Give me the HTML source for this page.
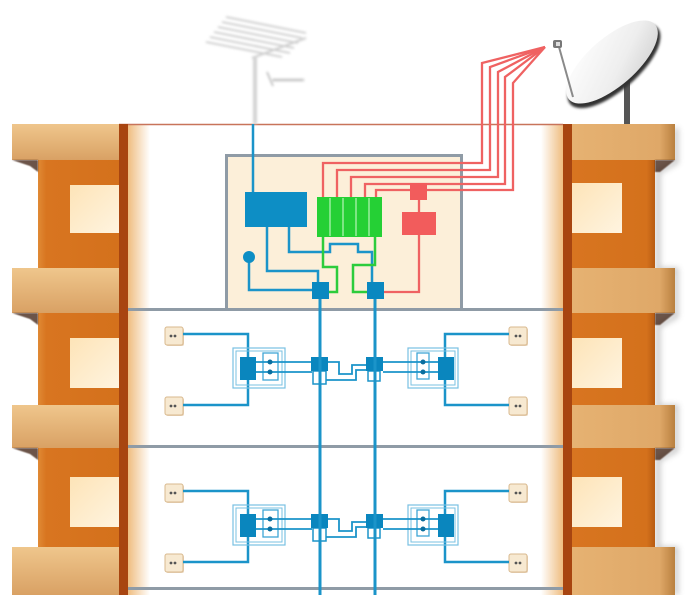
<!DOCTYPE html>
<html>
<head>
<meta charset="utf-8">
<style>
  html,body{margin:0;padding:0;background:#fff;}
  body{width:700px;height:595px;overflow:hidden;font-family:"Liberation Sans",sans-serif;}
  svg{display:block;}
</style>
</head>
<body>
<svg width="700" height="595" viewBox="0 0 700 595" xmlns="http://www.w3.org/2000/svg">
  <defs>
    <linearGradient id="slab" x1="0" y1="0" x2="0" y2="1">
      <stop offset="0" stop-color="#efc68c"/>
      <stop offset="1" stop-color="#d9a164"/>
    </linearGradient>
    <linearGradient id="slabR" x1="0" y1="0" x2="1" y2="0">
      <stop offset="0" stop-color="#e6b272"/>
      <stop offset="0.85" stop-color="#dfa868"/>
      <stop offset="1" stop-color="#b9803f"/>
    </linearGradient>
    <linearGradient id="orangeL" x1="0" y1="0" x2="1" y2="0">
      <stop offset="0" stop-color="#e08a35"/>
      <stop offset="0.1" stop-color="#d87520"/>
      <stop offset="1" stop-color="#d4711c"/>
    </linearGradient>
    <linearGradient id="orangeR" x1="0" y1="0" x2="1" y2="0">
      <stop offset="0" stop-color="#d87520"/>
      <stop offset="0.9" stop-color="#d4711c"/>
      <stop offset="1" stop-color="#b85c12"/>
    </linearGradient>
    <linearGradient id="win" x1="0" y1="0" x2="1" y2="1">
      <stop offset="0" stop-color="#fde4b8"/>
      <stop offset="1" stop-color="#fff4e0"/>
    </linearGradient>
    <linearGradient id="lgrad" x1="0" y1="0" x2="1" y2="0">
      <stop offset="0" stop-color="#efbd80"/>
      <stop offset="1" stop-color="#ffffff"/>
    </linearGradient>
    <linearGradient id="rgrad" x1="0" y1="0" x2="1" y2="0">
      <stop offset="0" stop-color="#ffffff"/>
      <stop offset="1" stop-color="#efbd80"/>
    </linearGradient>
    <linearGradient id="dish" x1="0" y1="0" x2="1" y2="1">
      <stop offset="0" stop-color="#ffffff"/>
      <stop offset="0.6" stop-color="#eeeeee"/>
      <stop offset="1" stop-color="#cfcfcf"/>
    </linearGradient>
    <filter id="blur1" x="-20%" y="-20%" width="140%" height="140%">
      <feGaussianBlur stdDeviation="1.2"/>
    </filter>
    <filter id="blur3" x="-50%" y="-10%" width="200%" height="120%">
      <feGaussianBlur stdDeviation="3"/>
    </filter>
    <filter id="blur05">
      <feGaussianBlur stdDeviation="0.5"/>
    </filter>

    <!-- one floor's wiring -->
    <g id="floor">
      <!-- outlets -->
      <g>
        <rect x="166" y="328" width="18" height="18" rx="2" fill="#d8b88e" opacity="0.6"/>
        <rect x="165" y="327" width="18" height="18" rx="2" fill="#f7e9d1" stroke="#d9b98e" stroke-width="1"/>
        <circle cx="171" cy="336" r="1.4" fill="#555"/><circle cx="175" cy="336" r="1.4" fill="#555"/>
        <rect x="166" y="398" width="18" height="18" rx="2" fill="#d8b88e" opacity="0.6"/>
        <rect x="165" y="397" width="18" height="18" rx="2" fill="#f7e9d1" stroke="#d9b98e" stroke-width="1"/>
        <circle cx="171" cy="406" r="1.4" fill="#555"/><circle cx="175" cy="406" r="1.4" fill="#555"/>
        <rect x="510" y="328" width="18" height="18" rx="2" fill="#d8b88e" opacity="0.6"/>
        <rect x="509" y="327" width="18" height="18" rx="2" fill="#f7e9d1" stroke="#d9b98e" stroke-width="1"/>
        <circle cx="516" cy="336" r="1.4" fill="#555"/><circle cx="520" cy="336" r="1.4" fill="#555"/>
        <rect x="510" y="398" width="18" height="18" rx="2" fill="#d8b88e" opacity="0.6"/>
        <rect x="509" y="397" width="18" height="18" rx="2" fill="#f7e9d1" stroke="#d9b98e" stroke-width="1"/>
        <circle cx="516" cy="406" r="1.4" fill="#555"/><circle cx="520" cy="406" r="1.4" fill="#555"/>
      </g>
      <!-- outlet cables -->
      <path d="M183,334 H248 V405 H183" fill="none" stroke="#1b94c9" stroke-width="2.5"/>
      <path d="M509,334 H445 V405 H509" fill="none" stroke="#1b94c9" stroke-width="2.5"/>
      <!-- left splitter -->
      <rect x="233" y="348" width="52" height="40" fill="none" stroke="#79c0e2" stroke-width="1.2"/>
      <rect x="236" y="351" width="46" height="34" fill="none" stroke="#79c0e2" stroke-width="1"/>
      <rect x="263" y="353" width="15" height="27" fill="none" stroke="#3fa6d6" stroke-width="1.3"/>
      <path d="M256,362 H312 M256,372 H312" stroke="#1b94c9" stroke-width="1.8"/>
      <rect x="240" y="357" width="16" height="23" fill="#0a86be"/>
      <circle cx="270" cy="362" r="2.5" fill="#0a6e9e"/>
      <circle cx="270" cy="372" r="2.5" fill="#0a6e9e"/>
      <!-- central nodes & jumper -->
      <rect x="313" y="371" width="13" height="13" fill="none" stroke="#1b94c9" stroke-width="1.5"/>
      <rect x="368" y="371" width="12" height="10" fill="none" stroke="#1b94c9" stroke-width="1.5"/>
      <path d="M328,362 H339 V374 H352 V365 H366" fill="none" stroke="#1b94c9" stroke-width="1.8"/>
      <path d="M326,380 H356 V370 H366" fill="none" stroke="#1b94c9" stroke-width="1.8"/>
      <rect x="311" y="357" width="17" height="14" fill="#0a86be"/>
      <rect x="366" y="357" width="17" height="14" fill="#0a86be"/>
      <!-- right splitter -->
      <rect x="408" y="348" width="50" height="40" fill="none" stroke="#79c0e2" stroke-width="1.2"/>
      <rect x="411" y="351" width="44" height="34" fill="none" stroke="#79c0e2" stroke-width="1"/>
      <rect x="417" y="353" width="12" height="26" fill="none" stroke="#3fa6d6" stroke-width="1.3"/>
      <path d="M383,362 H438 M383,372 H438" stroke="#1b94c9" stroke-width="1.8"/>
      <rect x="438" y="357" width="16" height="23" fill="#0a86be"/>
      <circle cx="423" cy="362" r="2.5" fill="#0a6e9e"/>
      <circle cx="423" cy="372" r="2.5" fill="#0a6e9e"/>
    </g>
  </defs>

  <rect width="700" height="595" fill="#ffffff"/>

  <!-- building interior -->
  <rect x="128" y="124" width="435" height="471" fill="#ffffff"/>
  <rect x="128" y="124" width="22" height="471" fill="url(#lgrad)"/>
  <rect x="541" y="124" width="22" height="471" fill="url(#rgrad)"/>
  <line x1="119" y1="124.5" x2="563" y2="124.5" stroke="#c8745a" stroke-width="1.6"/>

  <!-- floor lines -->
  <rect x="128" y="308" width="435" height="3" fill="#8f9ba6"/>
  <rect x="128" y="445" width="435" height="3" fill="#8f9ba6"/>
  <rect x="128" y="587" width="435" height="3" fill="#8f9ba6"/>

  <!-- LEFT COLUMN -->
  <g>
    <rect x="12" y="124" width="108" height="36" fill="url(#slab)"/>
    <rect x="38" y="160" width="82" height="108" fill="url(#orangeL)"/>
    <rect x="70" y="185" width="50" height="48" fill="url(#win)"/>
    <rect x="12" y="268" width="108" height="45" fill="url(#slab)"/>
    <rect x="38" y="313" width="82" height="92" fill="url(#orangeL)"/>
    <rect x="70" y="338" width="50" height="50" fill="url(#win)"/>
    <rect x="12" y="405" width="108" height="43" fill="url(#slab)"/>
    <rect x="38" y="448" width="82" height="99" fill="url(#orangeL)"/>
    <rect x="70" y="477" width="50" height="50" fill="url(#win)"/>
    <rect x="12" y="547" width="108" height="48" fill="url(#slab)"/>
    <!-- slab under-shadows -->
    <g fill="#3a1a08" opacity="0.75" filter="url(#blur05)">
      <polygon points="12,160 38,160 38,172 30,166"/>
      <polygon points="12,313 38,313 38,325 30,319"/>
      <polygon points="12,448 38,448 38,460 30,454"/>
    </g>
    <rect x="119" y="124" width="9" height="471" fill="#a84510"/>
  </g>

  <!-- RIGHT COLUMN -->
  <g>
    <!-- drop shadow -->
    <path d="M676,128 V162 L658,172 V270 H676 V316 L658,326 V407 H676 V450 L658,460 V549 H676 V595" fill="none" stroke="#888" stroke-width="5" opacity="0.45" filter="url(#blur3)"/>
    <rect x="572" y="124" width="103" height="36" fill="url(#slabR)"/>
    <rect x="572" y="160" width="83" height="108" fill="url(#orangeR)"/>
    <rect x="572" y="183" width="50" height="50" fill="url(#win)"/>
    <rect x="572" y="268" width="103" height="45" fill="url(#slabR)"/>
    <rect x="572" y="313" width="83" height="92" fill="url(#orangeR)"/>
    <rect x="572" y="338" width="50" height="50" fill="url(#win)"/>
    <rect x="572" y="405" width="103" height="43" fill="url(#slabR)"/>
    <rect x="572" y="448" width="83" height="99" fill="url(#orangeR)"/>
    <rect x="572" y="477" width="50" height="50" fill="url(#win)"/>
    <rect x="572" y="547" width="103" height="48" fill="url(#slabR)"/>
    <g fill="#3a1a08" opacity="0.75" filter="url(#blur05)">
      <polygon points="655,160 675,160 660,172 655,172"/>
      <polygon points="655,313 675,313 660,325 655,325"/>
      <polygon points="655,448 675,448 660,460 655,460"/>
    </g>
    <rect x="563" y="124" width="9" height="471" fill="#a84510"/>
  </g>

  <!-- TV ANTENNA -->
  <g filter="url(#blur1)" opacity="0.9">
    <g stroke="#bdbdbd" stroke-width="1.6" fill="none">
      <line x1="226" y1="17" x2="306" y2="33"/>
      <line x1="222" y1="22" x2="302" y2="38"/>
      <line x1="218" y1="27" x2="298" y2="43"/>
      <line x1="214" y1="32" x2="294" y2="48"/>
      <line x1="210" y1="37" x2="290" y2="53"/>
      <line x1="206" y1="42" x2="282" y2="57"/>
    </g>
    <line x1="252" y1="58" x2="306" y2="38" stroke="#c8c8c8" stroke-width="2"/>
    <line x1="255" y1="56" x2="255" y2="124" stroke="#cfcfcf" stroke-width="4"/>
    <line x1="267" y1="72" x2="273" y2="86" stroke="#a8a8a8" stroke-width="1.5"/>
    <line x1="273" y1="80" x2="304" y2="80" stroke="#9a9a9a" stroke-width="2.5" stroke-dasharray="2,1"/>
  </g>

  <!-- SATELLITE DISH -->
  <g>
    <rect x="624" y="74" width="6" height="50" fill="#555"/>
    <ellipse cx="614" cy="66" rx="58" ry="24" transform="rotate(-41 614 66)" fill="#333" filter="url(#blur1)"/>
    <ellipse cx="612" cy="62" rx="57" ry="24" transform="rotate(-41 612 62)" fill="url(#dish)"/>
    <line x1="559" y1="47" x2="573" y2="97" stroke="#8a8a8a" stroke-width="2"/>
    <rect x="553" y="40" width="9" height="8" rx="2" fill="#777"/>
    <rect x="556" y="42" width="4" height="4" fill="#ddd"/>
  </g>

  <!-- HEADEND CABINET -->
  <rect x="226.5" y="155.5" width="235" height="154" fill="#fcefd9" stroke="#8f9ba6" stroke-width="3"/>

  <!-- red satellite cables -->
  <g fill="none" stroke="#ef6262" stroke-width="2.3" stroke-linejoin="miter">
    <path d="M323,197 V163 H482 V63 L545,47"/>
    <path d="M337,197 V170 H490 V67 L545,47"/>
    <path d="M351,197 V177 H498 V72 L545,47"/>
    <path d="M365,197 V184 H505 V77 L545,47"/>
    <path d="M376,197 V190 H513 V83 L545,47"/>
    <path d="M419,200 V212"/>
    <path d="M419,235 V292 H384"/>
  </g>
  <rect x="410" y="183" width="17" height="17" fill="#f25c5c"/>
  <rect x="402" y="212" width="34" height="23" fill="#f25c5c"/>

  <!-- terrestrial cable -->
  <path d="M253,124 V192" stroke="#1b94c9" stroke-width="2.5" fill="none"/>
  <rect x="245" y="192" width="62" height="35" fill="#0d8ec5"/>
  <g fill="none" stroke="#1b94c9" stroke-width="2.5">
    <path d="M267,227 V271 H318 V282"/>
    <path d="M289,227 V252 H330 V244 H358 V252 H372 V282"/>
    <path d="M249,257 V290 H312"/>
  </g>
  <circle cx="249" cy="257" r="6" fill="#0d8ec5"/>

  <!-- green multiswitch -->
  <g fill="none" stroke="#2ccc3c" stroke-width="2.5">
    <path d="M323,237 V267 H337 V292 H329"/>
    <path d="M375,237 V265 H353 V292 H367"/>
  </g>
  <rect x="317" y="197" width="65" height="40" fill="#25d035"/>
  <g stroke="#9bee9f" stroke-width="1.5">
    <line x1="330" y1="198" x2="330" y2="236"/>
    <line x1="343" y1="198" x2="343" y2="236"/>
    <line x1="356" y1="198" x2="356" y2="236"/>
    <line x1="369" y1="198" x2="369" y2="236"/>
  </g>

  <!-- cabinet output nodes -->
  <rect x="312" y="282" width="17" height="17" fill="#0a88c0"/>
  <rect x="367" y="282" width="17" height="17" fill="#0a88c0"/>

  <!-- floors -->
  <use href="#floor"/>
  <use href="#floor" transform="translate(0,157)"/>

  <!-- risers -->
  <path d="M320,299 V595 M375,299 V595" stroke="#1b94c9" stroke-width="3" fill="none"/>
</svg>
</body>
</html>
